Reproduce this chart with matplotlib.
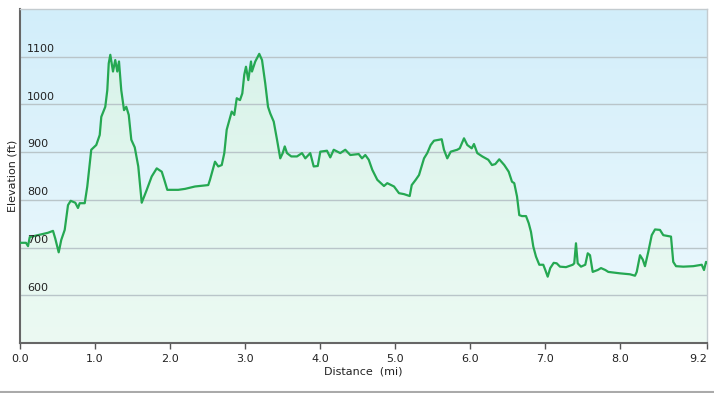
import numpy as np
import matplotlib.pyplot as plt
from matplotlib.colors import LinearSegmentedColormap
from matplotlib.lines import Line2D

# distance (mi) and elevation (ft)
dist = [0.00, 0.08, 0.107, 0.13, 0.24, 0.373, 0.44, 0.47, 0.516, 0.55, 0.596, 0.64,
        0.676, 0.737, 0.773, 0.796, 0.863, 0.897, 0.95, 1.017, 1.063, 1.084, 1.137,
        1.164, 1.183, 1.204, 1.24, 1.27, 1.297, 1.32, 1.35, 1.387, 1.417, 1.45, 1.484,
        1.53, 1.577, 1.623, 1.69, 1.756, 1.823, 1.89, 1.924, 1.964, 2.11, 2.2, 2.333,
        2.51, 2.533, 2.6, 2.644, 2.69, 2.724, 2.756, 2.823, 2.857, 2.89, 2.933, 2.964,
        2.99, 3.013, 3.044, 3.08, 3.093, 3.137, 3.19, 3.227, 3.27, 3.307, 3.337, 3.383,
        3.427, 3.47, 3.503, 3.53, 3.56, 3.617, 3.693, 3.76, 3.804, 3.87, 3.916, 3.97,
        4.004, 4.093, 4.137, 4.183, 4.27, 4.337, 4.404, 4.516, 4.56, 4.604, 4.65, 4.697,
        4.764, 4.853, 4.897, 4.987, 5.053, 5.12, 5.196, 5.223, 5.276, 5.32, 5.387, 5.43,
        5.476, 5.52, 5.623, 5.653, 5.697, 5.743, 5.83, 5.863, 5.92, 5.964, 6.023, 6.053,
        6.097, 6.164, 6.244, 6.293, 6.337, 6.39, 6.457, 6.516, 6.56, 6.59, 6.627, 6.657,
        6.693, 6.747, 6.783, 6.813, 6.844, 6.88, 6.924, 6.977, 7.004, 7.036, 7.07, 7.116,
        7.156, 7.2, 7.28, 7.37, 7.39, 7.413, 7.436, 7.48, 7.537, 7.57, 7.6, 7.636, 7.703,
        7.747, 7.804, 7.844, 8.0, 8.133, 8.2, 8.223, 8.267, 8.303, 8.333, 8.377, 8.423,
        8.467, 8.533, 8.577, 8.644, 8.68, 8.71, 8.747, 8.844, 8.977, 9.09, 9.12, 9.147,
        9.16]
elev = [710, 710, 703, 722, 726, 731, 735, 719, 690, 716, 737, 789,
        798, 794, 783, 793, 793, 828, 905, 915, 936, 974, 995,
        1030, 1086, 1104, 1069, 1093, 1069, 1090, 1030, 988, 995, 978, 926,
        910, 870, 794, 821, 849, 866, 859, 842, 821, 821, 823, 828,
        831, 842, 880, 870, 873, 898, 947, 985, 978, 1013, 1009, 1023,
        1062, 1079, 1051, 1090, 1069, 1090, 1106, 1093, 1044, 995, 981, 964,
        926, 887, 898, 912, 898, 891, 891, 898, 887, 898, 870, 871,
        901, 903, 889, 905, 898, 905, 894, 896, 887, 894, 884, 863,
        842, 829, 835, 828, 814, 812, 808, 831, 842, 852, 887, 898,
        915, 924, 927, 905, 887, 901, 905, 908, 929, 915, 908, 917,
        898, 891, 884, 873, 875, 885, 873, 859, 838, 835, 807, 768,
        766, 766, 751, 733, 702, 681, 664, 664, 653, 639, 657, 668,
        667, 660, 659, 664, 667, 709, 667, 660, 664, 688, 684, 649, 653,
        657, 653, 649, 646, 644, 641, 649, 684, 675, 661, 691, 726,
        738, 737, 726, 724, 723, 670, 661, 660, 661, 664, 653, 670,
        668]

x_ticks = [0, 1, 2, 3, 4, 5, 6, 7, 8, 9.16]
x_labels = ["0.0", "1.0", "2.0", "3.0", "4.0", "5.0", "6.0", "7.0", "8.0", "9.2"]
y_ticks = [600, 700, 800, 900, 1000, 1100]

fig = plt.figure(figsize=(7.14, 3.93), dpi=100)
ax = fig.add_axes([20 / 714, 1 - 343 / 393, 687 / 714, 334 / 393])
ax.set_xlim(0, 9.16)
ax.set_ylim(500, 1200)

# sky gradient background
sky = LinearSegmentedColormap.from_list("sky", ["#eef9fd", "#d2eefa"])
grad = np.linspace(0, 1, 256).reshape(-1, 1)
ax.imshow(grad, cmap=sky, origin="lower", aspect="auto",
          extent=[0, 9.16, 500, 1200], zorder=0)

# green gradient under the profile
green = LinearSegmentedColormap.from_list("green", ["#ecfaf3", "#d9f3ea"])
im = ax.imshow(grad, cmap=green, origin="lower", aspect="auto",
               extent=[0, 9.16, 500, 1110], zorder=1)
poly = ax.fill_between(dist, elev, 500, color="none", lw=0)
clip = poly.get_paths()[0]
im.set_clip_path(clip, transform=ax.transData)

for yv in y_ticks:
    ax.axhline(yv, color="#b9c5c9", lw=1, zorder=2)
    ax.annotate(str(yv), xy=(0, yv), xycoords=("axes fraction", "data"),
                xytext=(5, 2), textcoords="offset points",
                ha="left", va="bottom", fontsize=8, color="#222222", zorder=4)

ax.plot(dist, elev, color="#25a852", lw=1.6, zorder=3)

ax.set_yticks([])
ax.set_xticks(x_ticks)
ax.set_xticklabels(x_labels, fontsize=8, color="#222222")
ax.get_xticklabels()[-1].set_horizontalalignment("right")
ax.tick_params(axis="x", length=4, width=1, color="#555555", pad=4)

for s in ["left", "bottom"]:
    ax.spines[s].set_color("#666666")
    ax.spines[s].set_linewidth(1.5)
for s in ["top", "right"]:
    ax.spines[s].set_color("#c3cbcf")
    ax.spines[s].set_linewidth(1)

ax.set_xlabel("Distance  (mi)", fontsize=8, color="#222222", labelpad=2)
ax.set_ylabel("Elevation (ft)", fontsize=8, color="#222222", labelpad=2)

fig.add_artist(Line2D([0, 1], [0.003, 0.003], color="#aaaaaa", lw=1.5))

plt.savefig("out.png", dpi=100)
plt.close()
